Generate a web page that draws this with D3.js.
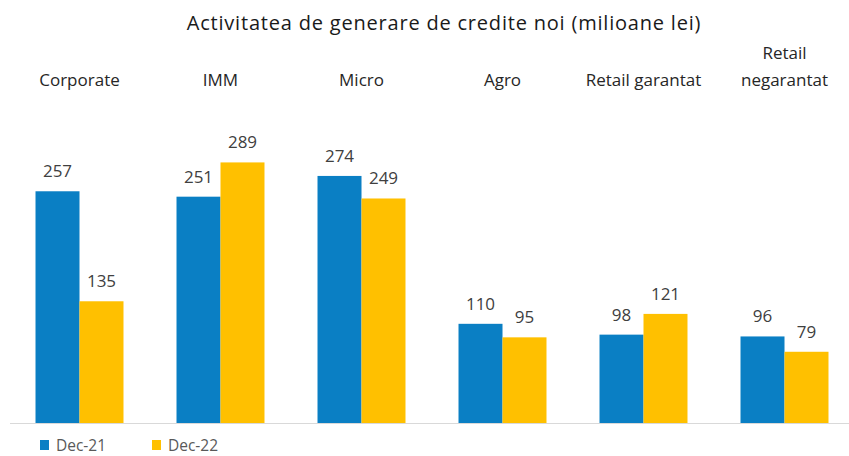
<!DOCTYPE html>
<html>
<head>
<meta charset="utf-8">
<script src="https://cdn.jsdelivr.net/npm/d3@7"></script>
<style>
  body { margin: 0; background: #fff; }
  text { font-family: "Open Sans", "Noto Sans", sans-serif; fill: #404040; }
</style>
</head>
<body>
<script>
var width = 849;
var height = 456;

var categories = ["Corporate", "IMM", "Micro", "Agro", "Retail garantat", "Retail negarantat"];
var seriesNames = ["Dec-21", "Dec-22"];
var dec21 = [257, 251, 274, 110, 98, 96];
var dec22 = [135, 289, 249, 95, 121, 79];
var colors = ["#0a7fc4", "#ffc000"];

// category labels are wrapped like in the excel chart
var labelLines = [["Corporate"], ["IMM"], ["Micro"], ["Agro"], ["Retail garantat"], ["Retail", "negarantat"]];

var svg = d3.select("body")
    .append("svg")
    .attr("width", width)
    .attr("height", height);

var x = d3.scaleBand()
    .domain(categories)
    .range([9, 855])
    .paddingInner(0.376)
    .paddingOuter(0.188);

var xSeries = d3.scaleBand()
    .domain(seriesNames)
    .range([0, x.bandwidth()]);

var y = d3.scaleLinear()
    .domain([0, 300])
    .range([423, 152.5]);

svg.append("text")
    .attr("x", 444)
    .attr("y", 30)
    .attr("text-anchor", "middle")
    .style("font-size", "20px")
    .style("letter-spacing", "0.8px")
    .style("fill", "#1a1a1a")
    .text("Activitatea de generare de credite noi (milioane lei)");

// category names on top
svg.append("g")
    .selectAll("text")
    .data(categories)
    .enter()
    .append("text")
    .attr("text-anchor", "middle")
    .attr("x", function (d) { return x(d) + x.bandwidth() / 2; })
    .attr("y", 0)
    .style("font-size", "17px")
    .style("fill", "#262626")
    .each(function (d, i) {
        var lines = labelLines[i];
        var t = d3.select(this);
        lines.forEach(function (line, j) {
            t.append("tspan")
                .attr("x", x(d) + x.bandwidth() / 2)
                .attr("y", 86 - (lines.length - 1 - j) * 27)
                .text(line);
        });
    });

var series = [dec21, dec22];

var groups = svg.append("g")
    .selectAll("g")
    .data(seriesNames)
    .enter()
    .append("g")
    .attr("fill", function (d, i) { return colors[i]; });

groups.each(function (name, si) {
    var g = d3.select(this);
    var values = series[si];
    g.selectAll("rect")
        .data(values)
        .enter()
        .append("rect")
        .attr("x", function (v, i) { return x(categories[i]) + xSeries(name); })
        .attr("y", function (v) { return y(v); })
        .attr("width", xSeries.bandwidth())
        .attr("height", function (v) { return y(0) - y(v); });

    g.selectAll("text")
        .data(values)
        .enter()
        .append("text")
        .attr("text-anchor", "middle")
        .attr("x", function (v, i) { return x(categories[i]) + xSeries(name) + xSeries.bandwidth() / 2; })
        .attr("y", function (v) { return y(v) - 14; })
        .style("font-size", "17px")
        .text(function (v) { return v; });
});

// axis line
svg.append("g")
    .attr("transform", "translate(0," + y(0) + ")")
    .call(d3.axisBottom(x).tickSize(0).tickFormat(""))
    .call(function (g) {
        g.select(".domain").attr("stroke", "#d9d9d9").attr("d", "M10,0.5H849");
    });

// legend
var legend = svg.append("g")
    .selectAll("g")
    .data(seriesNames)
    .enter()
    .append("g")
    .attr("transform", function (d, i) { return "translate(" + (40 + i * 112) + ",440)"; });

legend.append("rect")
    .attr("width", 9)
    .attr("height", 10)
    .attr("fill", function (d, i) { return colors[i]; });

legend.append("text")
    .attr("x", 16)
    .attr("y", 10.5)
    .style("font-size", "15.5px")
    .style("fill", "#595959")
    .text(function (d) { return d; });
</script>
</body>
</html>
